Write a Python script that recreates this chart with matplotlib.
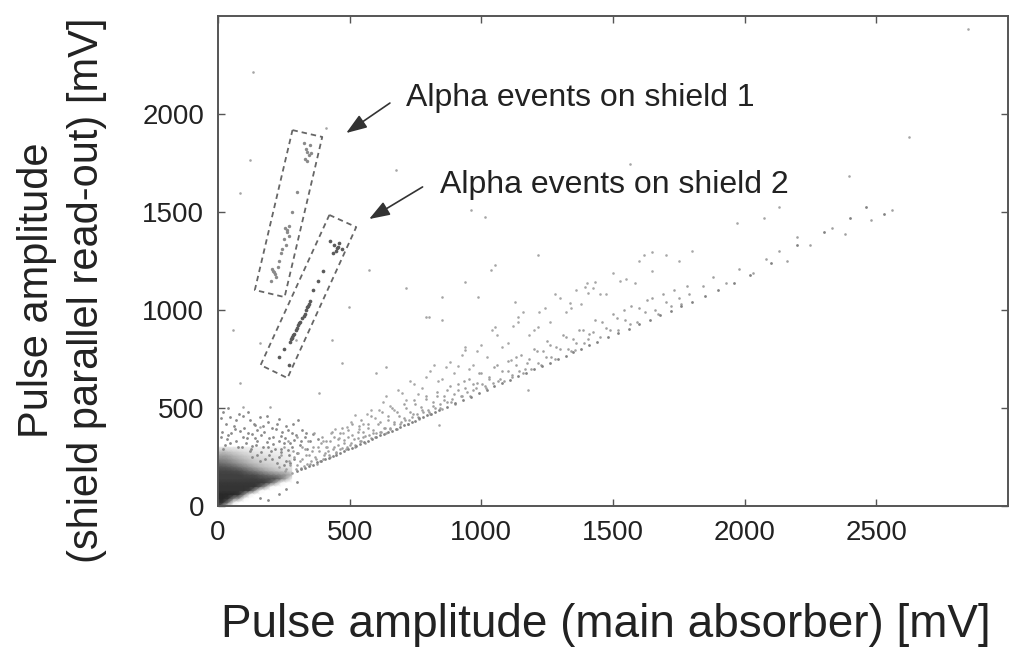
import matplotlib
matplotlib.use("Agg")
import matplotlib.pyplot as plt
from matplotlib.colors import LinearSegmentedColormap
import numpy as np

plt.rcParams['font.family'] = ['Liberation Sans', 'DejaVu Sans']

# dense core near the origin, grey level
core_x = [0, 20, 40, 60, 80, 100, 120, 140, 160, 180, 200, 220, 240, 260, 280]
core_y = [0, 20, 40, 60, 80, 100, 120, 140, 160, 180, 200, 220, 240, 260, 280, 300]
core_level = [
    [0.9, 0.5, 0.1, 0, 0, 0, 0, 0, 0, 0, 0, 0, 0, 0, 0],
    [0.95, 0.9, 0.6, 0.1, 0, 0, 0, 0, 0, 0, 0, 0, 0, 0, 0],
    [0.95, 0.95, 0.9, 0.6, 0.45, 0.05, 0, 0, 0, 0, 0, 0, 0, 0, 0],
    [0.95, 0.95, 0.95, 0.95, 0.9, 0.55, 0.1, 0, 0, 0, 0, 0, 0, 0, 0],
    [0.9, 0.9, 0.9, 0.9, 0.9, 0.9, 0.85, 0.5, 0.05, 0, 0, 0, 0, 0, 0],
    [0.9, 0.9, 0.9, 0.9, 0.9, 0.9, 0.9, 0.9, 0.75, 0.45, 0.05, 0, 0, 0, 0],
    [0.88, 0.88, 0.88, 0.88, 0.88, 0.88, 0.88, 0.88, 0.88, 0.85, 0.7, 0.4, 0.05, 0, 0],
    [0.85, 0.85, 0.85, 0.85, 0.85, 0.85, 0.85, 0.85, 0.82, 0.8, 0.78, 0.75, 0.6, 0.35, 0.05],
    [0.85, 0.85, 0.85, 0.85, 0.85, 0.82, 0.8, 0.78, 0.72, 0.66, 0.6, 0.55, 0.5, 0.45, 0.3],
    [0.82, 0.82, 0.82, 0.8, 0.78, 0.72, 0.65, 0.58, 0.5, 0.42, 0.35, 0.3, 0.25, 0.2, 0.15],
    [0.75, 0.75, 0.72, 0.68, 0.62, 0.55, 0.48, 0.4, 0.33, 0.28, 0.24, 0.2, 0.15, 0.12, 0.1],
    [0.65, 0.62, 0.58, 0.52, 0.46, 0.4, 0.33, 0.28, 0.24, 0.2, 0.18, 0.15, 0.12, 0.1, 0.08],
    [0.52, 0.52, 0.48, 0.42, 0.36, 0.31, 0.26, 0.21, 0.19, 0.17, 0.14, 0.12, 0.1, 0.08, 0.06],
    [0.4, 0.42, 0.38, 0.32, 0.27, 0.23, 0.19, 0.16, 0.14, 0.12, 0.11, 0.1, 0.08, 0.06, 0.05],
    [0.25, 0.28, 0.24, 0.2, 0.17, 0.14, 0.12, 0.1, 0.09, 0.08, 0.07, 0.06, 0.05, 0.05, 0.04],
    [0.1, 0.12, 0.1, 0.09, 0.08, 0.07, 0.06, 0.05, 0.05, 0.04, 0.04, 0.04, 0.03, 0.03, 0.02],
]

# sparse halo around the core
halo_x = [20, 45, 80, 120, 160, 30, 60, 100, 140, 190, 230, 15, 50, 85, 130, 175, 220, 260,
          35, 70, 110, 150, 195, 240, 280, 320, 25, 90, 130, 170, 210, 250, 290, 330, 360,
          200, 240, 280, 310, 350, 380, 230, 270, 300, 340, 150, 120, 180, 260, 290,
          189, 230, 260, 160, 300,
          10, 40, 70, 95, 115, 135, 150, 170, 185, 205, 225, 245, 265, 285, 305,
          10, 40, 65, 95, 115, 140, 165, 185, 210, 230, 255, 275, 295, 315, 335,
          20, 45, 75, 105, 125, 145, 165, 190, 215, 240, 265, 225, 250, 275, 205, 195, 160, 130]
halo_y = [480, 455, 470, 440, 455, 420, 410, 400, 415, 430, 445, 380, 370, 385, 365, 380, 395, 410,
          340, 330, 345, 330, 345, 355, 370, 390, 310, 300, 305, 300, 315, 320, 335, 350, 365,
          280, 290, 300, 310, 330, 340, 250, 260, 270, 290, 260, 280, 240, 230, 240,
          30, 60, 85, 40, 120,
          450, 500, 440, 460, 480, 420, 390, 410, 460, 400, 420, 380, 390, 420, 440,
          350, 360, 395, 350, 375, 345, 360, 325, 350, 330, 345, 320, 360, 330, 370,
          290, 320, 300, 320, 290, 310, 275, 300, 290, 275, 285, 220, 210, 220, 240, 260, 230, 250]

# lower edge of the band (y ~ 0.58 x)
ridge_x = [300, 330, 360, 390, 420, 450, 480, 510, 540, 570, 600, 630, 660, 690, 720, 750,
           780, 810, 840, 870, 900, 930, 960, 990, 1020, 1050, 1080, 1110, 1140, 1170, 1200,
           1230, 1260, 1290, 1320, 1350, 1380, 1410, 1440, 1480, 1520, 1560, 1600, 1640, 1680,
           1720, 1760, 1800, 1850, 1900, 1960, 2020, 2100, 2200, 2300, 2400, 2460, 2530,
           315, 345, 375, 405, 435, 465, 495, 525, 555, 585, 615, 645, 675, 705, 735, 765, 795, 825]
ridge_y = [178, 192, 210, 228, 245, 262, 280, 297, 314, 332, 350, 366, 383, 401, 419, 436,
           453, 470, 489, 505, 523, 540, 558, 575, 593, 610, 628, 645, 662, 680, 697,
           714, 732, 750, 767, 784, 802, 819, 836, 860, 882, 905, 928, 950, 975,
           995, 1018, 1042, 1070, 1100, 1140, 1180, 1240, 1330, 1400, 1470, 1525, 1490,
           190, 205, 222, 238, 256, 272, 290, 308, 325, 343, 360, 377, 395, 412, 430, 447, 464, 482]

# body of the band above the ridge
band_x = [260, 270, 280, 290, 300, 305, 315, 320, 330, 340, 345, 355, 360, 370, 375, 385, 390, 400, 405, 410,
          420, 425, 435, 440, 450, 455, 465, 470, 480, 490, 495, 505, 510, 520, 530, 535, 545, 550, 560, 570, 580, 590, 600,
          615, 620, 635, 645, 655, 670, 680, 690, 705, 715, 725, 740, 750, 760, 775, 790, 800, 815, 830, 845, 860, 870, 885, 895,
          910, 925, 940, 955, 970, 985, 1000, 1015, 1030, 1050, 1065, 1080, 1100, 1115, 1130, 1150, 1165, 1180, 1200, 1215, 1235, 1250, 1265, 1285,
          1310, 1330, 1350, 1370, 1390, 1410, 1430, 1450, 1475, 1500, 1520, 1545, 1570, 1590, 1620, 1650, 1670, 1700, 1730, 1760, 1790,
          1840, 1880, 1930, 1980, 2030, 2080, 2130, 2160, 2200, 2250, 2330, 2380, 2480, 2560,
          230, 240, 250, 255, 265, 275, 285, 295, 300, 310, 318, 325, 335, 342, 350, 358, 365, 372, 380, 388,
          395, 402, 410, 418, 425, 432, 440, 447, 455, 462, 470, 478, 485, 492, 500, 508, 515, 522, 530, 538,
          545, 552, 560, 568, 575, 583, 590, 598, 606, 614, 622, 630, 638, 646, 654, 662, 670, 678, 686, 694,
          705, 712, 720, 730, 738, 746, 755, 763, 772, 780, 790, 798, 806, 815, 824, 833, 842, 850, 860, 870,
          880, 890, 900, 912, 922, 934, 945, 956, 968, 980, 992, 1004, 1016, 1030, 1044, 1058, 1070, 1085, 1100, 1115,
          1130, 1145, 1160, 1175, 1190, 1210, 1225, 1245, 1262, 1280, 1300, 1320, 1340, 1360, 1385, 1405, 1425, 1460,
          1490, 1515, 1540, 1565, 1600, 1630, 1660, 1690, 1720, 1750, 1780]
band_y = [190, 230, 170, 250, 210, 270, 195, 240, 290, 215, 260, 230, 300, 250, 215, 280, 320, 240, 270, 300,
          260, 330, 290, 350, 275, 310, 370, 295, 335, 300, 390, 320, 360, 310, 345, 410, 330, 380, 355, 420, 345, 390, 370,
          430, 380, 400, 460, 395, 430, 480, 420, 450, 500, 440, 470, 520, 455, 490, 545, 480, 510, 560, 500, 540, 590, 530, 570,
          620, 560, 600, 650, 590, 630, 680, 610, 660, 710, 640, 690, 740, 670, 720, 770, 700, 750, 800, 730, 790, 840, 760, 810,
          870, 800, 850, 900, 830, 880, 950, 860, 910, 980, 900, 950, 1020, 940, 990, 1060, 980, 1040, 1100, 1030, 1080,
          1120, 1170, 1140, 1210, 1190, 1260, 1300, 1250, 1370, 1330, 1420, 1390, 1460, 1510,
          200, 260, 300, 180, 330, 210, 280, 190, 350, 230, 300, 205, 260, 330, 215, 280, 370, 240, 300, 230,
          350, 260, 330, 280, 250, 380, 300, 270, 340, 290, 400, 320, 290, 350, 310, 420, 340, 300, 380, 330,
          440, 350, 320, 400, 360, 460, 370, 350, 420, 380, 480, 400, 370, 440, 400, 500, 420, 395, 460, 430,
          520, 440, 420, 480, 455, 540, 470, 445, 505, 480, 560, 490, 470, 530, 500, 580, 520, 495, 560, 530,
          610, 545, 520, 590, 560, 640, 580, 560, 620, 600, 680, 620, 600, 650, 630, 720, 650, 640, 690, 660,
          760, 690, 680, 730, 700, 790, 720, 760, 820, 750, 800, 860, 790, 830, 900, 850, 890, 940,
          900, 960, 1000, 930, 1010, 1050, 1000, 1080, 1020, 1060, 1120]

# upper, thinner part of the band
upper_x = [400, 430, 460, 490, 520, 550, 580, 610, 640, 670, 700, 730, 760, 790, 820, 850, 880, 910, 940, 970,
           1000, 1040, 1080, 1120, 1160, 1200, 1240, 1280, 1320, 1360, 1400, 1450, 1500, 1550, 1600, 1650, 1700,
           1750, 1800,
           415, 445, 475, 505, 535, 565, 595, 625, 655, 685, 715, 745, 775, 805, 835, 865, 895, 925, 955, 985,
           1020, 1060, 1100, 1140, 1180, 1220, 1260, 1300, 1340, 1380, 1425, 1475, 1525]
upper_y = [330, 375, 345, 405, 465, 420, 490, 490, 560, 490, 575, 640, 570, 660, 720, 650, 735, 715, 810, 720,
           820, 900, 810, 920, 990, 900, 1010, 1080, 990, 1100, 1140, 1080, 1190, 1160, 1250, 1200, 1280,
           1250, 1300,
           300, 395, 370, 430, 395, 470, 450, 530, 510, 590, 540, 620, 600, 690, 640, 710, 680, 770, 700, 790,
           760, 870, 830, 940, 870, 990, 940, 1060, 1010, 1030, 1110, 1080, 1150]

# scattered events between the band and the y axis
loose_x = [132, 121, 83, 411, 675, 1015, 1215, 962, 2849, 2623, 2396, 2132, 2075, 1970, 1566, 1649, 1619,
           1053, 940, 849, 713, 574, 498, 434, 789, 472, 600, 385, 1430, 1585, 1404, 1336, 1128, 989, 1140,
           1215, 1053, 849, 1113, 940, 638, 57, 83, 158, 94, 196, 158, 800, 1038, 1392, 298, 1177, 838, 1355]
loose_y = [2214, 1765, 1597, 1928, 1714, 1474, 1281, 1510, 2434, 1883, 1684, 1526, 1469, 1444, 1745, 1296, 1281,
           1230, 1143, 1066, 1112, 1204, 1015, 847, 964, 730, 679, 577, 1143, 1138, 1087, 1036, 1041, 1066, 964,
           913, 913, 949, 745, 796, 709, 898, 628, 832, 505, 505, 403, 964, 1204, 1117, 847, 592, 413, 796]

# alpha events on shield 1
alpha1_x = [335, 345, 330, 350, 340, 355, 325, 338, 255, 262, 268, 250, 258, 245, 270, 240, 264,
            210, 218, 222, 205, 228, 200, 214, 300, 280, 230]
alpha1_y = [1820, 1790, 1770, 1840, 1760, 1800, 1850, 1805, 1420, 1400, 1380, 1360, 1330, 1310, 1430, 1290, 1410,
            1200, 1185, 1170, 1210, 1220, 1150, 1195, 1600, 1500, 1250]

# alpha events on shield 2
alpha2_x = [440, 455, 448, 460, 435, 470, 425, 452, 340, 345, 335, 330, 320, 312, 305, 300, 290,
            282, 278, 275, 350, 325, 298, 285, 342, 308, 280, 360, 250, 230, 270, 380, 400]
alpha2_y = [1330, 1320, 1300, 1340, 1290, 1310, 1350, 1315, 1015, 1030, 1000, 980, 960, 940, 925, 910, 880,
            860, 850, 835, 1045, 970, 900, 870, 1020, 935, 855, 1100, 800, 760, 720, 1150, 1200]

# dashed selection boxes (corners in mV)
box1 = [(283, 1918), (396, 1883), (253, 1066), (140, 1102)]
box2 = [(423, 1485), (525, 1423), (264, 653), (162, 719)]

fig = plt.figure(figsize=(10.1, 6.54), dpi=100)
ax = fig.add_axes([0.2158, 0.2263, 0.7822, 0.7492])

cmap = LinearSegmentedColormap.from_list('core', ['#ffffff', '#1e1e1e'])
ax.pcolormesh(core_x, core_y, np.array(core_level), shading='gouraud', cmap=cmap,
              vmin=0, vmax=1, zorder=1, rasterized=True)

ax.scatter(halo_x, halo_y, s=4, c='#8a8a8a', linewidths=0, zorder=2)
ax.scatter(band_x, band_y, s=3.5, c='#a0a0a0', linewidths=0, zorder=2)
ax.scatter(upper_x, upper_y, s=3.5, c='#a8a8a8', linewidths=0, zorder=2)
ax.scatter(ridge_x, ridge_y, s=4, c='#828282', linewidths=0, zorder=2)
ax.scatter(loose_x, loose_y, s=3.5, c='#a5a5a5', linewidths=0, zorder=2)
ax.scatter(alpha1_x, alpha1_y, s=6, c='#8a8a8a', linewidths=0, zorder=2)
ax.scatter(alpha2_x, alpha2_y, s=7, c='#5a5a5a', linewidths=0, zorder=2)

for box in [box1, box2]:
    bx = [p[0] for p in box] + [box[0][0]]
    by = [p[1] for p in box] + [box[0][1]]
    ax.plot(bx, by, color='#666666', lw=1.3, dashes=(3, 2.2), zorder=3)

arrow = dict(arrowstyle='-|>,head_length=0.7,head_width=0.25', color='#333333', lw=1.2,
             shrinkA=0, shrinkB=0, mutation_scale=18)
ax.annotate('', xy=(487, 1903), xytext=(653, 2056), arrowprops=arrow, zorder=4)
ax.annotate('', xy=(574, 1464), xytext=(777, 1628), arrowprops=arrow, zorder=4)
ax.text(713, 2041, 'Alpha events on shield 1', fontsize=23, color='#222222', va='baseline')
ax.text(842, 1597, 'Alpha events on shield 2', fontsize=23, color='#222222', va='baseline')

ax.set_xlim(0, 3000)
ax.set_ylim(0, 2500)
ax.set_xticks([0, 500, 1000, 1500, 2000, 2500])
ax.set_yticks([0, 500, 1000, 1500, 2000])
ax.tick_params(direction='in', length=5, width=1, color='#555555', top=True, right=True,
               labelsize=20, pad=10, labelcolor='#222222')
for s in ax.spines.values():
    s.set_color('#555555')
    s.set_linewidth(1.4)

fig.text(606 / 1010, 1 - 625 / 654, 'Pulse amplitude (main absorber) [mV]', fontsize=33,
         ha='center', va='center', color='#222222')
fig.text(62 / 1010, 1 - 290 / 654, 'Pulse amplitude\n(shield parallel read-out) [mV]', fontsize=30,
         ha='center', va='center', rotation=90, multialignment='center', linespacing=1.35,
         color='#222222')

fig.savefig('out.png', dpi=100)
